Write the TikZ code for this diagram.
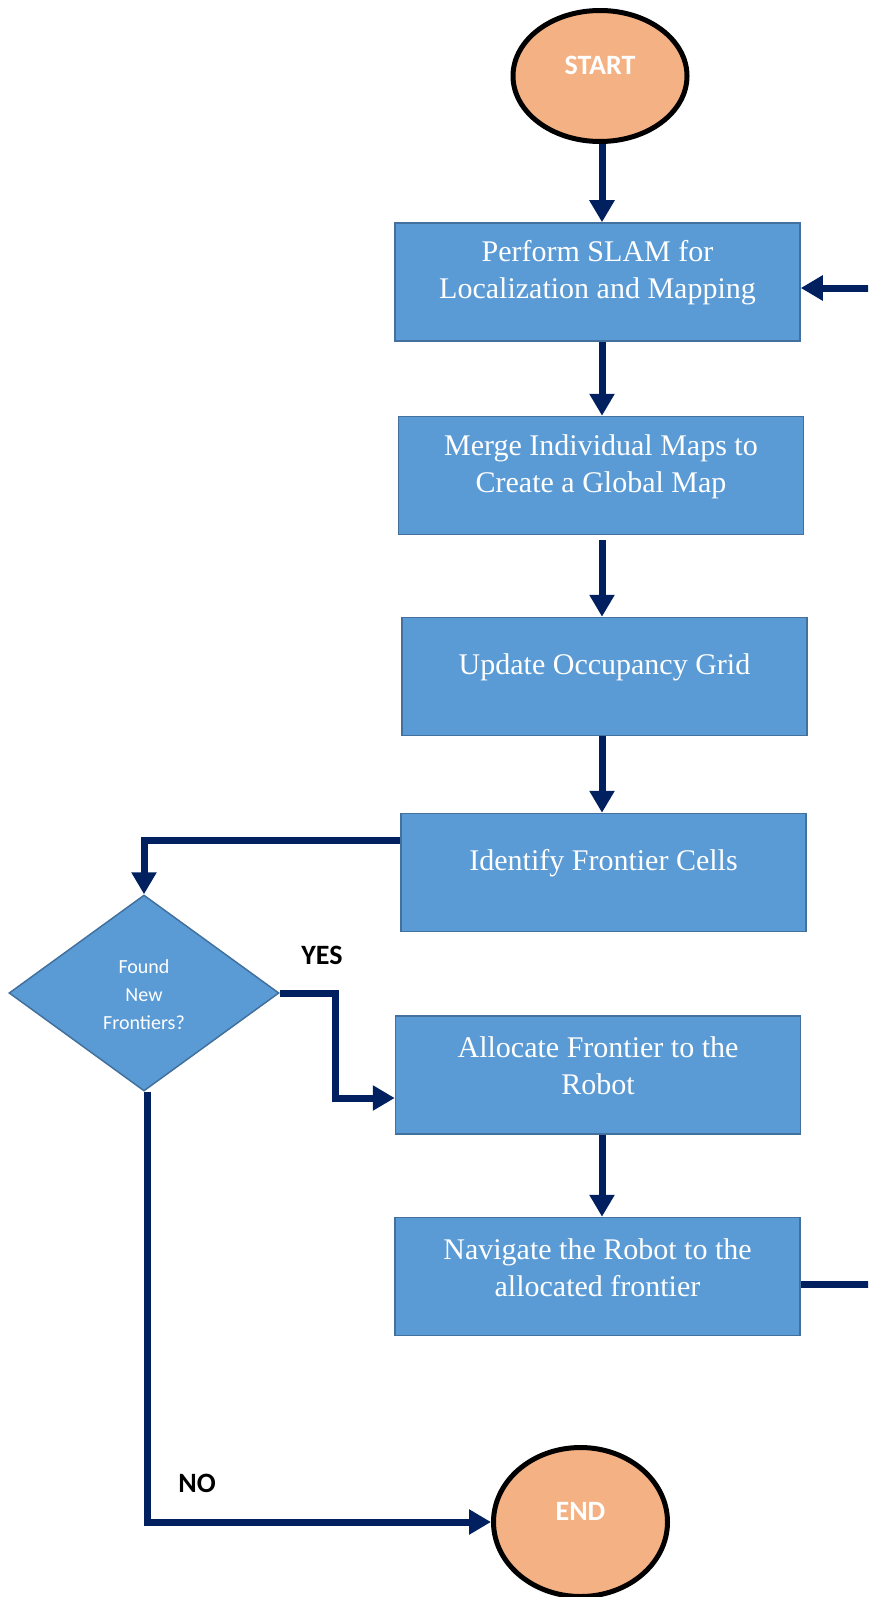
\documentclass[tikz,border=0pt]{standalone}
\usepackage{fontspec}
\setmainfont{Liberation Serif}
\newfontfamily\labelfont{Carlito}
\usetikzlibrary{arrows.meta,shapes.geometric}

\definecolor{boxblue}{HTML}{5B9BD5}
\definecolor{boxedge}{HTML}{41719C}
\definecolor{navy}{HTML}{002060}
\definecolor{termfill}{HTML}{F4B183}

\tikzset{
  stepbox/.style={rectangle, fill=boxblue, draw=boxedge, line width=1.5pt,
    minimum width=405pt, minimum height=118pt, inner sep=0pt},
  boxtext/.style={text=white, align=center, inner sep=0pt,
    font=\fontsize{30}{37}\selectfont, yshift=9pt},
  term/.style={ellipse, fill=termfill, draw=black, line width=5pt, inner sep=0pt},
  termtext/.style={text=white, inner sep=0pt,
    font=\labelfont\bfseries\fontsize{28}{34}\selectfont},
  decide/.style={diamond, fill=boxblue, draw=boxedge, line width=1.5pt,
    minimum width=270pt, minimum height=196pt, inner sep=0pt},
  decidetext/.style={text=white, align=center, inner sep=0pt,
    font=\labelfont\fontsize{20}{28}\selectfont},
  answer/.style={text=black, inner sep=0pt,
    font=\labelfont\bfseries\fontsize{28}{34}\selectfont},
  arr/.style={draw=navy, line width=7pt, -{Triangle[length=22pt,width=24pt]}},
}

\begin{document}
\begin{tikzpicture}[x=1pt,y=-1pt]
\useasboundingbox (0,0) rectangle (868,1597);
\clip (0,0) rectangle (868,1597);

% terminals
\node[term, minimum width=174pt, minimum height=131pt,
  label={[termtext,yshift=11pt]center:START}] (start) at (600,76) {};
\node[term, minimum width=174pt, minimum height=149pt,
  label={[termtext,yshift=11pt]center:END}] (end) at (580.5,1522) {};

% process steps
\node[stepbox, label={[boxtext]center:{Perform SLAM for\\Localization and Mapping}}] (slam) at (597.5,282) {};
\node[stepbox, label={[boxtext]center:{Merge Individual Maps to\\Create a Global Map}}] (merge) at (601,475.5) {};
\node[stepbox, label={[boxtext]center:{Update Occupancy Grid}}] (update) at (604.5,676.5) {};
\node[stepbox, label={[boxtext]center:{Identify Frontier Cells}}] (ident) at (603.5,872.5) {};
\node[stepbox, label={[boxtext]center:{Allocate Frontier to the\\Robot}}] (alloc) at (598,1075) {};
\node[stepbox, label={[boxtext]center:{Navigate the Robot to the\\allocated frontier}}] (nav) at (597.5,1276.5) {};

% decision
\node[decide, label={[decidetext,yshift=-2pt]center:{Found\\New\\Frontiers?}}] (dia) at (144,993) {};

% branch labels
\node[answer] (yes) at (322,955) {YES};
\node[answer] (no) at (197,1483) {NO};

% helper coordinates for the connector routes
\coordinate (spine) at (602,0);
\coordinate (yesbend) at (335,1098);
\coordinate (nodrop) at (147,0);
\coordinate (loopx) at (885,0);

% main column
\draw[arr] (spine |- start.south) -- (spine |- slam.north);
\draw[arr] (spine |- slam.south) -- (spine |- merge.north);
\draw[arr] ([yshift=-5pt]spine |- merge.south) -- (spine |- update.north);
\draw[arr] (spine |- update.south) -- (spine |- ident.north);
\draw[arr] (spine |- alloc.south) -- (spine |- nav.north);

% frontier check
\draw[arr] (ident.west |- 0,840) -| (dia.north);
\draw[arr] (dia.east) -| (yesbend) -- (alloc.west |- yesbend);
\draw[arr] (nodrop |- dia.south) |- (end.west);

% loop back to SLAM
\draw[arr] (nav.east |- 0,1284) -- (loopx |- 0,1284) -- (loopx |- 0,288) -- (slam.east |- 0,288);
\end{tikzpicture}
\end{document}
